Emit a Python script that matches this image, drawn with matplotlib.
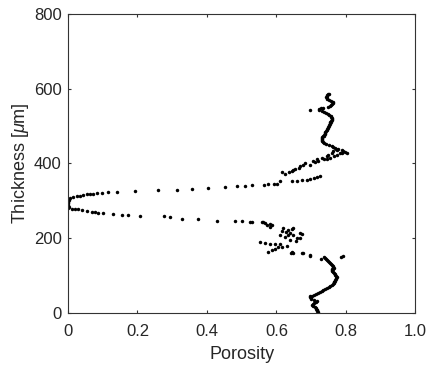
import numpy as np
import matplotlib
matplotlib.use("Agg")
from matplotlib import pyplot as plt

plt.rcParams['font.family'] = ['Liberation Sans', 'DejaVu Sans']
plt.rcParams['mathtext.fontset'] = 'custom'
plt.rcParams['mathtext.rm'] = 'Liberation Sans'
plt.rcParams['mathtext.it'] = 'Liberation Sans:italic'

# bottom chain (thickness in um, porosity)
bottom_t = [1, 3.5, 6, 8.5, 11, 13.5, 16, 18.5, 21, 23.5, 26, 28.5, 31, 33.5, 36, 38.5,
            41, 43.5, 46, 48.5, 51, 53.5, 56, 58.5, 61, 63.5, 66, 68.5, 71, 73.5, 76,
            78.5, 81, 83.5, 86, 88.5, 91, 93.5, 96, 98.5, 101, 103.5, 106, 108.5, 111,
            113.5, 116, 118.5, 121, 123.5, 126, 128.5, 131, 133.5, 136, 138.5, 141,
            143.5, 146, 148.5, 145, 150, 152, 153, 161, 161, 161]
bottom_p = [.720, .718, .717, .716, .714, .713, .711, .706, .702, .704, .708, .714, .716,
            .707, .701, .699, .697, .698, .703, .709, .715, .719, .725, .730, .735, .741,
            .746, .751, .755, .759, .762, .765, .766, .767, .768, .770, .771, .773, .774,
            .773, .770, .768, .765, .763, .761, .760, .761, .763, .765, .764, .762, .759,
            .756, .754, .751, .749, .746, .743, .741, .738, .729, .785, .793, .697, .677,
            .648, .643]

# scattered cluster 155-245 um
cluster_t = [242, 236, 231, 236, 228, 225, 228, 209, 204, 209, 209, 215, 212, 201, 199,
             188, 183, 183, 183, 177, 164, 169, 172, 177, 180, 164, 161, 156,
             242, 220, 217, 213, 195, 192, 189, 222]
cluster_p = [.562, .573, .582, .588, .620, .646, .648, .611, .625, .634, .648, .669, .674,
             .660, .669, .568, .582, .597, .611, .605, .576, .588, .597, .617, .631, .646,
             .674, .697, .529, .615, .628, .640, .640, .655, .553, .632]

# lower branch of the nose
lower_t = [281, 279, 278, 277, 275, 272, 270, 269, 268, 267, 265, 263, 261, 259, 258,
           256, 252, 250, 247, 245, 245, 244, 243, 241, 238]
lower_p = [.001, .011, .020, .030, .039, .054, .068, .078, .087, .102, .131, .155, .174,
           .207, .275, .294, .328, .375, .429, .481, .501, .524, .558, .568, .582]

# tip at zero porosity
tip_t = [284, 287, 290, 293, 296, 299, 302]
tip_p = [.002, .001, .000, .000, .001, .001, .002]

# upper branch of the nose
upper_t = [305, 308, 311, 312, 314, 316, 318, 319, 319, 320, 321, 323, 324, 327, 328,
           330, 332, 334, 336, 339, 341, 342, 343, 344, 346, 346,
           352, 353, 354, 355, 357, 359, 361, 363, 366]
upper_p = [.001, .006, .015, .025, .035, .044, .054, .063, .073, .083, .097, .116, .140,
           .193, .260, .313, .356, .404, .452, .486, .510, .529, .563, .577, .592, .601,
           .611, .645, .659, .673, .688, .697, .707, .717, .726]

# scatter 370-440 um
mid_t = [377, 373, 377, 379, 382, 386, 388, 393, 395, 402, 397, 403, 406, 411, 413, 415,
         420, 424, 429, 433, 429, 406, 411, 415, 420, 424, 429, 433, 438, 435, 430, 427,
         435]
mid_p = [.616, .625, .635, .645, .649, .654, .664, .669, .678, .683, .697, .712, .721,
         .736, .746, .755, .765, .774, .784, .793, .803, .706, .717, .731, .745, .749,
         .760, .764, .778, .789, .798, .790, .775]

# top chain
top_t = [440, 442.5, 445, 447.5, 450, 452.5, 455, 457.5, 460, 462.5, 465, 467.5, 470,
         472.5, 475, 477.5, 480, 482.5, 485, 487.5, 490, 492.5, 495, 497.5, 500, 502.5,
         505, 507.5, 510, 512.5, 515, 517.5, 520, 522.5, 525, 527.5, 530, 532.5, 535,
         537.5, 540, 542.5, 545, 547.5, 550, 552.5, 555, 557.5, 560, 562.5, 565, 567.5,
         570, 572.5, 575, 577.5, 580, 582.5, 585, 587.5, 543]
top_p = [.772, .768, .763, .759, .750, .744, .737, .733, .731, .730, .731, .731, .732,
         .735, .737, .738, .739, .740, .741, .743, .745, .747, .748, .749, .751, .752,
         .753, .754, .755, .757, .758, .759, .760, .760, .758, .756, .752, .748, .742,
         .737, .730, .722, .722, .727, .733, .748, .753, .757, .760, .763, .763, .756,
         .750, .746, .745, .744, .745, .747, .749, .750, .697]

thickness = np.concatenate([bottom_t, cluster_t, lower_t, tip_t, upper_t, mid_t, top_t])
porosity = np.concatenate([bottom_p, cluster_p, lower_p, tip_p, upper_p, mid_p, top_p])

fig = plt.figure(figsize=(4.26, 3.66), dpi=100)
ax = fig.add_axes([0.1596, 0.1456, 0.8154, 0.8154])

ax.plot(porosity, thickness, 'o', color='k', ms=2.5, mew=0, ls='none')

ax.set_xlim(0, 1)
ax.set_ylim(0, 800)
ax.set_xticks([0, 0.2, 0.4, 0.6, 0.8, 1.0])
ax.set_xticklabels(['0', '0.2', '0.4', '0.6', '0.8', '1.0'])
ax.set_yticks([0, 200, 400, 600, 800])

for s in ax.spines.values():
    s.set_color('#333333')
    s.set_linewidth(0.8)
ax.tick_params(direction='in', top=True, right=True, length=2.5, width=0.8,
               color='#333333', labelsize=12, labelcolor='#262626')
ax.tick_params(axis='x', pad=8)
ax.tick_params(axis='y', pad=4.5)

ax.set_xlabel('Porosity', fontsize=13, color='#262626', labelpad=5)
ax.set_ylabel(r'Thickness [$\mu$m]', fontsize=13, color='#262626', labelpad=2)

fig.savefig('out.png', dpi=100)
